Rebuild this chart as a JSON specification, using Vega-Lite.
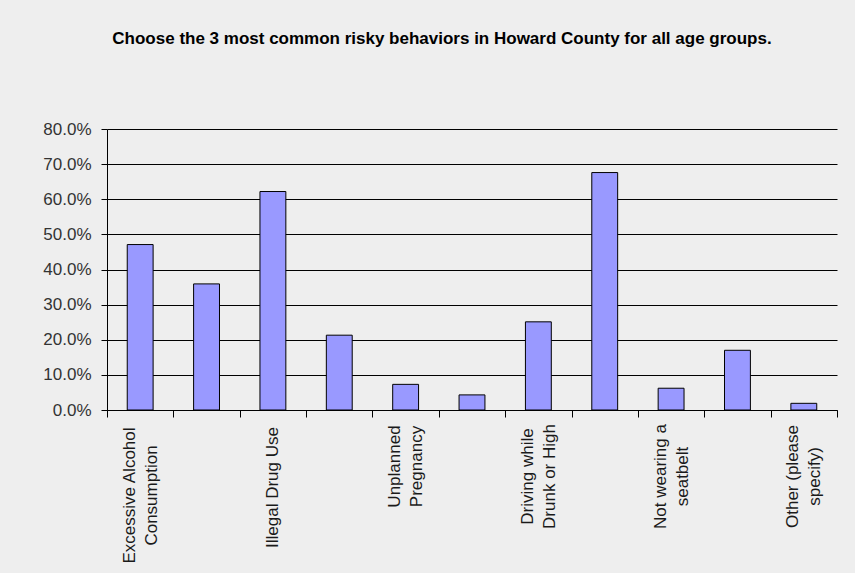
{
  "$schema": "https://vega.github.io/schema/vega-lite/v6.json",
  "width": 730,
  "height": 281,
  "autosize": {"type": "none"},
  "padding": {"left": 107, "top": 129, "right": 18, "bottom": 163},
  "background": "#EEEEEE",
  "title": {
    "text": "Choose the 3 most common risky behaviors in Howard County for all age groups.",
    "font": "Liberation Sans",
    "fontSize": 17,
    "fontWeight": "bold",
    "color": "#000000",
    "anchor": "middle",
    "dx": -30,
    "offset": 72
  },
  "data": {
    "values": [
      {"behavior": "Excessive Alcohol Consumption", "pct": 0.471},
      {"behavior": "Tobacco Use", "pct": 0.359},
      {"behavior": "Illegal Drug Use", "pct": 0.622},
      {"behavior": "Unsafe Sex", "pct": 0.213},
      {"behavior": "Unplanned Pregnancy", "pct": 0.073},
      {"behavior": "Dropping Out of School", "pct": 0.043},
      {"behavior": "Driving while Drunk or High", "pct": 0.251},
      {"behavior": "Texting while Driving", "pct": 0.676},
      {"behavior": "Not wearing a seatbelt", "pct": 0.062},
      {"behavior": "Poor Eating Habits", "pct": 0.170},
      {"behavior": "Other (please specify)", "pct": 0.019}
    ]
  },
  "mark": {
    "type": "bar",
    "fill": "#9999FF",
    "stroke": "#000000",
    "strokeWidth": 1,
    "width": {"band": 0.39}
  },
  "encoding": {
    "x": {
      "field": "behavior",
      "type": "nominal",
      "sort": null,
      "scale": {"paddingInner": 0, "paddingOuter": 0},
      "axis": {
        "title": null,
        "tickBand": "extent",
        "domainColor": "#000000",
        "tickColor": "#000000",
        "tickSize": 7,
        "labelAngle": -90,
        "labelAlign": "center",
        "labelPadding": {
          "condition": [
            {"test": "datum.value == 'Excessive Alcohol Consumption'", "value": 78},
            {"test": "datum.value == 'Illegal Drug Use'", "value": 70},
            {"test": "datum.value == 'Unplanned Pregnancy'", "value": 49}
          ],
          "value": 59
        },
        "labelOffset": {
          "condition": {"test": "datum.value == 'Illegal Drug Use'", "value": 0},
          "value": -11
        },
        "labelFont": "Liberation Sans",
        "labelFontSize": 17,
        "labelColor": "#1a1a1a",
        "labelLineHeight": 22,
        "labelLimit": 300,
        "labelExpr": "({'Excessive Alcohol Consumption': ['Excessive Alcohol', 'Consumption'], 'Illegal Drug Use': 'Illegal Drug Use', 'Unplanned Pregnancy': ['Unplanned', 'Pregnancy'], 'Driving while Drunk or High': ['Driving while', 'Drunk or High'], 'Not wearing a seatbelt': ['Not wearing a', 'seatbelt'], 'Other (please specify)': ['Other (please', 'specify)']})[datum.value] || ''"
      }
    },
    "y": {
      "field": "pct",
      "type": "quantitative",
      "scale": {"domain": [0, 0.8], "nice": false},
      "axis": {
        "title": null,
        "format": ".1%",
        "values": [0, 0.1, 0.2, 0.3, 0.4, 0.5, 0.6, 0.7, 0.8],
        "grid": true,
        "gridColor": "#000000",
        "gridOpacity": 1,
        "domainColor": "#000000",
        "tickColor": "#000000",
        "tickSize": 6,
        "labelPadding": 10,
        "labelFont": "Liberation Sans",
        "labelFontSize": 17,
        "labelColor": "#333333"
      }
    }
  },
  "config": {
    "view": {"stroke": null}
  }
}
